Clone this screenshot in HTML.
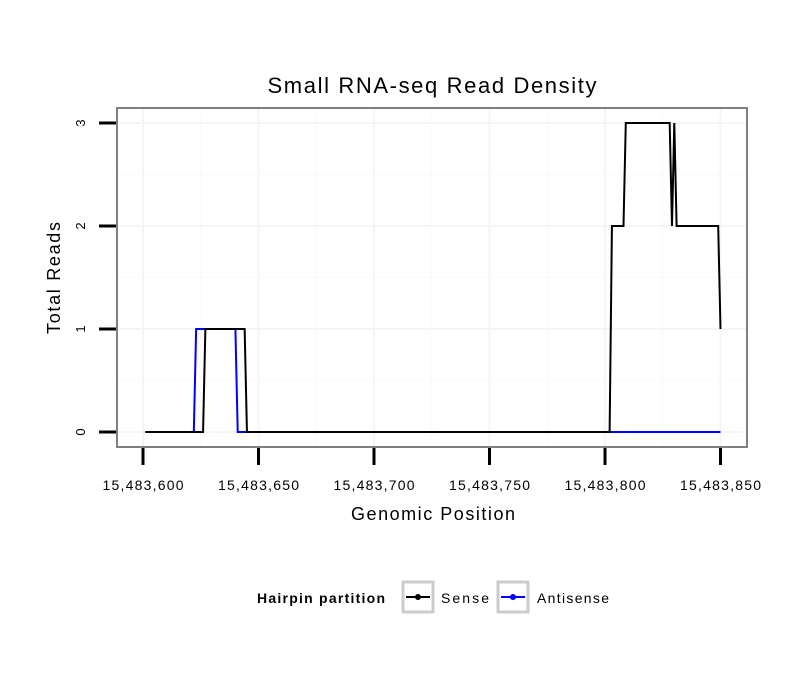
<!DOCTYPE html>
<html><head><meta charset="utf-8"><style>
body{margin:0;background:#fff;font-family:"Liberation Sans",sans-serif}
</style></head><body>
<svg id="c" width="810" height="690" xmlns="http://www.w3.org/2000/svg" font-family="Liberation Sans, sans-serif"></svg>
<script>
const xTicks=[15483600,15483650,15483700,15483750,15483800,15483850];
const xTickLabels=["15,483,600","15,483,650","15,483,700","15,483,750","15,483,800","15,483,850"];
const yTicks=[0,1,2,3];
const antisenseX=[15483601,15483622,15483623,15483640,15483641,15483850];
const antisenseY=[0,0,1,1,0,0];
const senseX=[15483601,15483626,15483627,15483644,15483645,15483802,15483803,15483808,15483809,15483828,15483829,15483830,15483831,15483849,15483850];
const senseY=[0,0,1,1,0,0,2,2,3,3,2,3,2,2,1];
const NS="http://www.w3.org/2000/svg";
const svg=document.getElementById('c');
const X=v=>143+(v-15483600)*2.31;
const Y=v=>432-v*103;
function el(t,a,p){const e=document.createElementNS(NS,t);for(const k in a)e.setAttribute(k,a[k]);(p||svg).appendChild(e);return e;}
const L=117,R=747,T=108,B=447;
let g=el('rect',{x:L,y:T,width:R-L,height:B-T,fill:'#fff'});


for(let i=0;i<xTicks.length;i++){const x=X(xTicks[i]);
 let l=el('line',{x1:x,x2:x,y1:T,y2:B,stroke:'#f5f5f5','stroke-width':2});
 
 
 if(i<xTicks.length-1){const xm=X(xTicks[i]+25);let m=el('line',{x1:xm,x2:xm,y1:T,y2:B,stroke:'#fafafa','stroke-width':1});
 
 }
}
for(let i=0;i<yTicks.length;i++){const y=Y(yTicks[i]);
 let l=el('line',{x1:L,x2:R,y1:y,y2:y,stroke:'#f5f5f5','stroke-width':2});
 
 
 if(i<yTicks.length-1){const ym=Y(yTicks[i]+0.5);let m=el('line',{x1:L,x2:R,y1:ym,y2:ym,stroke:'#fafafa','stroke-width':1});
 
 }
}
function series(xs,ys,col,name){const pts=xs.map((x,i)=>X(x)+','+Y(ys[i])).join(' ');
 const p=el('polyline',{points:pts,fill:'none',stroke:col,'stroke-width':2});
 
 }
series(antisenseX,antisenseY,'#0000ff','antisense-line');
series(senseX,senseY,'#000','sense-line');
g=el('rect',{x:L,y:T,width:R-L,height:B-T,fill:'none',stroke:'#7f7f7f','stroke-width':2});


for(let i=0;i<xTicks.length;i++){const x=X(xTicks[i]);
 let t=el('line',{x1:x,x2:x,y1:B+1,y2:465,stroke:'#000','stroke-width':3});
 
 
 let tx=el('text',{x:x,y:490,'font-size':14,'text-anchor':'middle',fill:'#000',textLength:81,lengthAdjust:'spacing'});tx.textContent=xTickLabels[i];
 
 
}
for(let i=0;i<yTicks.length;i++){const y=Y(yTicks[i]);
 let t=el('line',{x1:99,x2:L-1,y1:y,y2:y,stroke:'#000','stroke-width':3});
 
 
 let tx=el('text',{x:0,y:0,'font-size':13,'text-anchor':'middle',fill:'#000',transform:`translate(85,${y}) rotate(-90)`});tx.textContent=yTicks[i];
 
 
}
</script>
<div style="position:absolute;left:0;top:0;width:810px;height:690px;pointer-events:none">
<svg width="810" height="690" xmlns="http://www.w3.org/2000/svg" font-family="Liberation Sans, sans-serif">
<text x="432" y="93" font-size="22" text-anchor="middle" textLength="329" lengthAdjust="spacing">Small RNA-seq Read Density</text>
<text x="433" y="520" font-size="18" text-anchor="middle" textLength="164" lengthAdjust="spacing">Genomic Position</text>
<text transform="translate(60,278) rotate(-90)" font-size="18" text-anchor="middle" textLength="112" lengthAdjust="spacing">Total Reads</text>
<g>
<text x="257" y="603" font-size="14" font-weight="bold" textLength="128" lengthAdjust="spacing">Hairpin partition</text>
<g>
<rect x="403" y="582" width="30" height="30" fill="#fff" stroke="#ccc" stroke-width="3"/>
<line x1="406" x2="430" y1="597" y2="597" stroke="#000" stroke-width="2"/>
<circle cx="418" cy="597" r="3" fill="#000"/>
<text x="441" y="603" font-size="14" textLength="48" lengthAdjust="spacing">Sense</text></g>
<g>
<rect x="498" y="582" width="30" height="30" fill="#fff" stroke="#ccc" stroke-width="3"/>
<line x1="501" x2="525" y1="597" y2="597" stroke="#00f" stroke-width="2"/>
<circle cx="513" cy="597" r="3" fill="#00f"/>
<text x="537" y="603" font-size="14" textLength="72" lengthAdjust="spacing">Antisense</text></g>
</g>
</svg></div>
</body></html>
